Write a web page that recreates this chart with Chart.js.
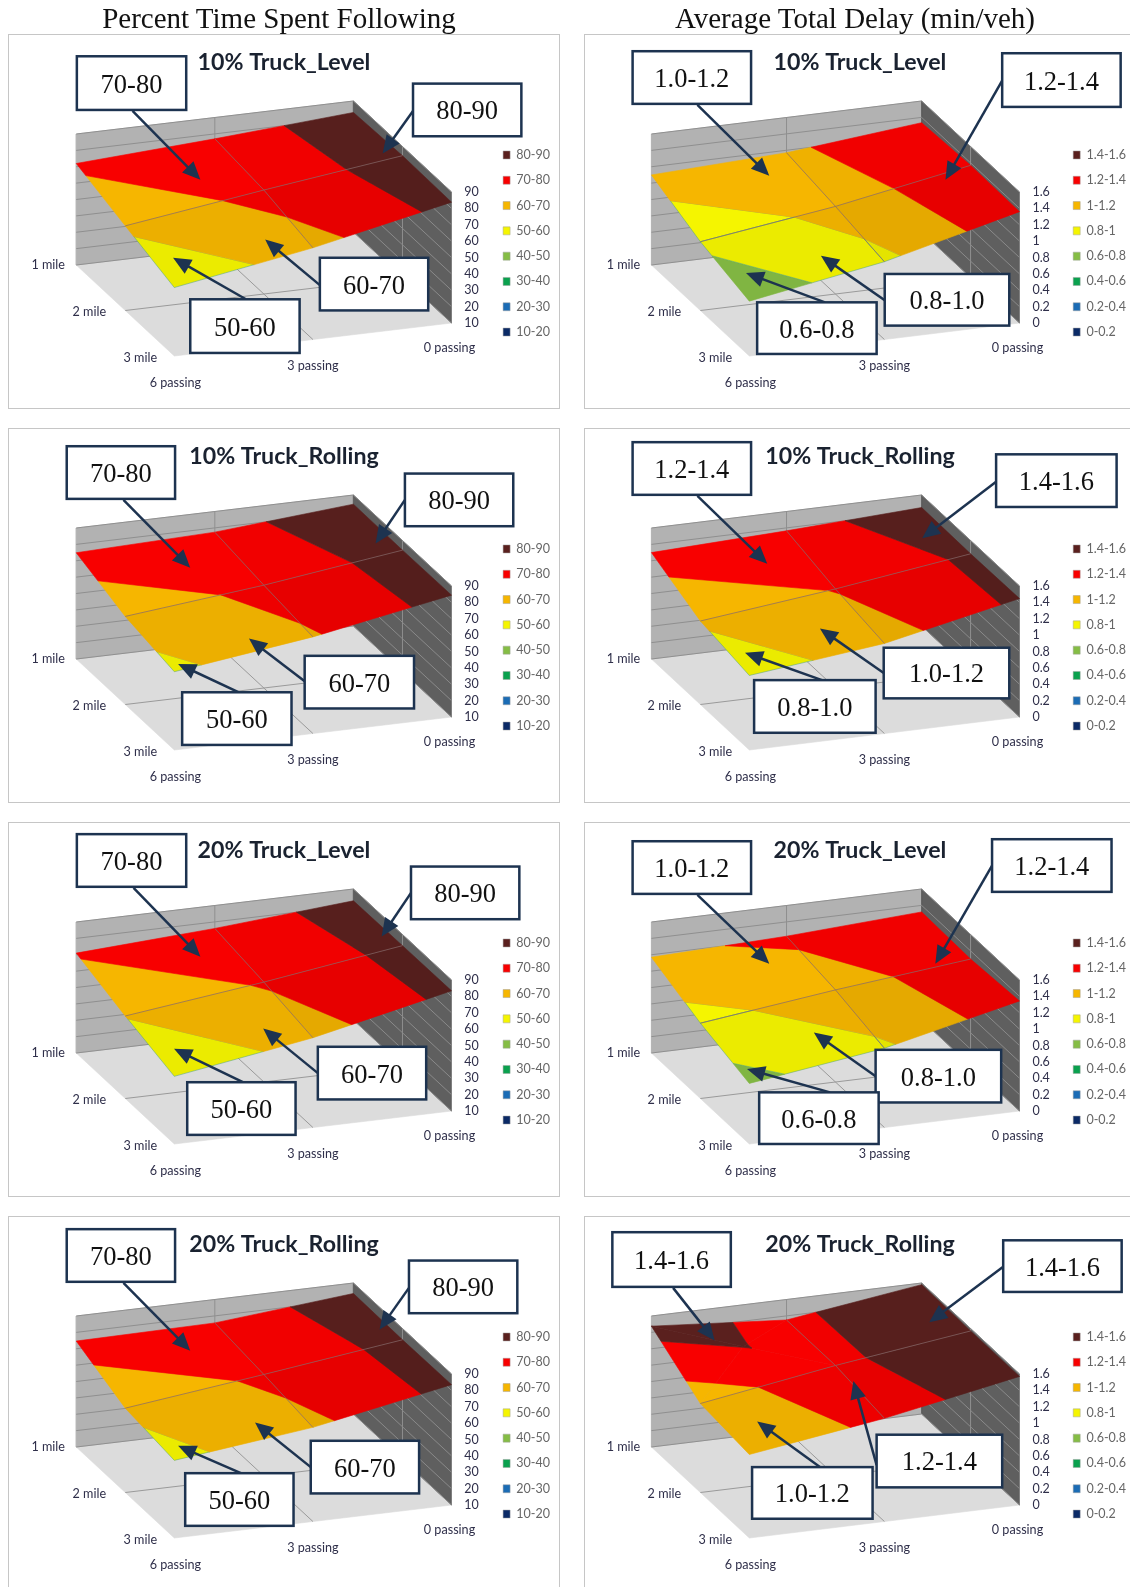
<!DOCTYPE html>
<html>
<head>
<meta charset="utf-8">
<title>Percent Time Spent Following / Average Total Delay</title>
<script src="https://cdn.jsdelivr.net/npm/chart.js@4"></script>
<style>
  html, body { margin: 0; background: #fff; }
  body { position: relative; width: 1130px; height: 1587px; overflow: hidden; }
  .head { position: absolute; top: 18px; transform: translate(-50%, -50%); white-space: nowrap;
          font: 29px "Liberation Serif", serif; color: #111; filter: blur(.35px); }
  .panel { position: absolute; background: #fff; outline: 1.5px solid #c6c6c6; outline-offset: -1px; }
  .panel canvas { position: absolute; left: 0; top: 0; filter: blur(.55px); }
</style>
</head>
<body>
<div class="head" style="left:279px">Percent Time Spent Following</div>
<div class="head" style="left:855px">Average Total Delay (min/veh)</div>
<script>
// data
const rowNames = ['1 mile', '2 mile', '3 mile'];
const colNames = ['6 passing', '3 passing', '0 passing'];
const ptsfTicks = [10, 20, 30, 40, 50, 60, 70, 80, 90];
const delayTicks = [0, 0.2, 0.4, 0.6, 0.8, 1, 1.2, 1.4, 1.6];
const ptsfBands = ['10-20', '20-30', '30-40', '40-50', '50-60', '60-70', '70-80', '80-90'];
const delayBands = ['0-0.2', '0.2-0.4', '0.4-0.6', '0.6-0.8', '0.8-1', '1-1.2', '1.2-1.4', '1.4-1.6'];

// rows: 1, 2, 3 mile. columns: 6, 3, 0 passing
const ptsf10Level = [[72, 77, 83], [61.7, 73.5, 84.4], [51.8, 66, 83.8]];
const ptsf10Rolling = [[74.9, 77.4, 84.4], [63.8, 72.8, 84.1], [57.8, 69, 84.4]];
const ptsf20Level = [[71, 76, 82.8], [60.4, 71, 83.2], [51.3, 64.8, 83.4]];
const ptsf20Rolling = [[74.7, 75.7, 83.6], [61.5, 72, 83.1], [57.4, 67.5, 83.5]];
const delay10Level = [[1.1, 1.17, 1.335], [0.84, 1.07, 1.37], [0.67, 0.95, 1.36]];
const delay10Rolling = [[1.3, 1.364, 1.447], [1.02, 1.21, 1.4375], [0.91, 1.1, 1.447]];
const delay20Level = [[1.17, 1.225, 1.32], [0.92, 1.125, 1.3], [0.74, 0.968, 1.344]];
const delay20Rolling = [[1.476, 1.35, 1.58], [1.087, 1.35, 1.57], [1.02, 1.26, 1.57]];
const delay20RollingCentre = [[1.405, null], [null, null]]; // the notch in the top left cell

const bandColors = ['#0b2a66', '#1b6cb5', '#0aa14e', '#85bd45', '#f5f500', '#f6b600', '#f80000', '#5a201e'];
const cellShade = [[1, 0.97], [0.96, 0.93]];

// callouts in picture coordinates: text, box x0 y0 x1 y1, arrow x0 y0 x1 y1
const callouts = {
  p10L: [['70-80', 76, 56, 184, 109, 131, 110, 198, 178], ['80-90', 408, 83, 515, 135, 408, 110, 378, 152], ['60-70', 316, 255, 423, 307, 316, 282, 262, 237], ['50-60', 188, 296, 296, 349, 243, 296, 171, 255]],
  d10L: [['1.0-1.2', 625, 51, 742, 103, 689, 104, 760, 174], ['1.2-1.4', 990, 53, 1107, 106, 990, 80, 934, 178], ['0.8-1.0', 874, 271, 997, 322, 874, 297, 811, 253], ['0.6-0.8', 748, 299, 866, 350, 815, 299, 737, 270]],
  p10R: [['70-80', 66, 441, 173, 493, 122, 494, 188, 561], ['80-90', 400, 468, 507, 520, 400, 494, 371, 537], ['60-70', 301, 648, 409, 700, 301, 673, 246, 631], ['50-60', 180, 684, 288, 736, 236, 684, 176, 656]],
  d10R: [['1.2-1.4', 625, 437, 742, 489, 689, 490, 758, 557], ['1.4-1.6', 984, 449, 1103, 501, 984, 476, 911, 532], ['1.0-1.2', 873, 640, 997, 690, 873, 665, 810, 621], ['0.8-1.0', 745, 672, 865, 724, 812, 672, 736, 645]],
  p20L: [['70-80', 76, 824, 184, 876, 132, 877, 198, 945], ['80-90', 406, 856, 513, 908, 406, 882, 377, 925], ['60-70', 314, 1034, 421, 1086, 314, 1060, 260, 1016], ['50-60', 185, 1069, 292, 1121, 240, 1069, 172, 1036]],
  d20L: [['1.0-1.2', 625, 831, 742, 883, 689, 884, 760, 952], ['1.2-1.4', 980, 829, 1098, 881, 980, 855, 924, 952], ['0.8-1.0', 865, 1037, 989, 1089, 865, 1063, 804, 1020], ['0.6-0.8', 750, 1079, 868, 1130, 820, 1079, 738, 1056]],
  p20R: [['70-80', 66, 1214, 173, 1266, 122, 1267, 188, 1334], ['80-90', 404, 1245, 511, 1297, 404, 1272, 375, 1313], ['60-70', 307, 1423, 414, 1475, 307, 1449, 252, 1405], ['50-60', 183, 1455, 290, 1507, 238, 1455, 176, 1428]],
  d20R: [['1.4-1.6', 605, 1217, 722, 1271, 665, 1272, 706, 1324], ['1.4-1.6', 991, 1225, 1108, 1276, 991, 1251, 918, 1306], ['1.0-1.2', 743, 1449, 862, 1500, 810, 1449, 748, 1404], ['1.2-1.4', 866, 1417, 990, 1469, 866, 1447, 843, 1364]]
};

const K = 1130 / 1116;
const panelW = 552, panelH = 374.6, wallH = 131;
const columnsGeom = [
  { left: 8 * K, axisW: 31, legendW: 71, L: [67.8, 231], F: [166, 322], R: [443.5, 289] },
  { left: 577 * K, axisW: 33, legendW: 78, L: [67, 231], F: [165, 322], R: [435.5, 289] }
];
const rowTops = [34, 423, 812, 1201].map(v => v * K);

function shade(hex, f) {
  const n = parseInt(hex.slice(1), 16);
  const c = [n >> 16, (n >> 8) & 255, n & 255].map(v => Math.round(v * f));
  return 'rgb(' + c.join(',') + ')';
}

// keep the part of a polygon on one side of a level, z runs linearly along the edges
function clipLevel(poly, level, above) {
  const out = [];
  for (let i = 0; i < poly.length; i++) {
    const a = poly[i], b = poly[(i + 1) % poly.length];
    const inA = above ? a.z >= level : a.z <= level;
    const inB = above ? b.z >= level : b.z <= level;
    if (inA) out.push(a);
    if (inA !== inB) {
      const t = (level - a.z) / (b.z - a.z);
      out.push({ x: a.x + (b.x - a.x) * t, y: a.y + (b.y - a.y) * t, z: level });
    }
  }
  return out;
}

function shapeSet(points, color, border) {
  const pts = points.map(p => ({ x: p.x, y: p.y }));
  pts.push(pts[0]);
  return { data: pts, showLine: true, fill: 'shape', backgroundColor: color, borderColor: border || color,
    borderWidth: 0.6, pointRadius: 0, clip: false };
}

function lineSet(points, color, width) {
  return { data: points.map(p => ({ x: p.x, y: p.y })), showLine: true, fill: false, borderColor: color,
    borderWidth: width, pointRadius: 0, clip: false };
}

function drawPanel(title, grid, ticks, bands, col, row, notes, centres) {
  const geom = columnsGeom[col];
  const top = rowTops[row];
  const box = document.createElement('div');
  box.className = 'panel';
  box.style.cssText = 'left:' + geom.left + 'px;top:' + top + 'px;width:' + panelW + 'px;height:' + panelH + 'px';
  const canvas = document.createElement('canvas');
  canvas.width = panelW;
  canvas.height = Math.ceil(panelH);
  box.appendChild(canvas);
  document.body.appendChild(box);

  const zMin = ticks[0], zMax = ticks[ticks.length - 1];
  const pxPerZ = wallH / (zMax - zMin);
  const floorXY = (r, c) => [
    geom.L[0] + (geom.F[0] - geom.L[0]) * r / 2 + (geom.R[0] - geom.F[0]) * c / 2,
    geom.L[1] + (geom.F[1] - geom.L[1]) * r / 2 + (geom.R[1] - geom.F[1]) * c / 2
  ];
  // x in panel pixels, y in axis units so that the right hand axis reads true on the corner
  const project = (r, c, z) => {
    const p = floorXY(r, c);
    return { x: p[0], y: z + (geom.R[1] - p[1]) / pxPerZ, z: z };
  };

  const sets = [];
  const floor = [project(0, 0, zMin), project(2, 0, zMin), project(2, 2, zMin), project(0, 2, zMin)];
  sets.push(shapeSet(floor, '#dcdcdc'));
  sets.push(lineSet([project(1, 0, zMin), project(1, 2, zMin)], '#9a9a9a', 1));
  sets.push(lineSet([project(0, 1, zMin), project(2, 1, zMin)], '#9a9a9a', 1));
  sets.push(shapeSet([project(0, 0, zMin), project(0, 2, zMin), project(0, 2, zMax), project(0, 0, zMax)], '#b2b2b2'));
  sets.push(shapeSet([project(0, 2, zMin), project(2, 2, zMin), project(2, 2, zMax), project(0, 2, zMax)], '#5f5f5f'));
  sets.push(lineSet([project(0, 1, zMin), project(0, 1, zMax)], '#8f8f8f', 1));
  sets.push(lineSet([project(1, 2, zMin), project(1, 2, zMax)], '#8f8f8f', 1));
  ticks.forEach(t => {
    sets.push(lineSet([project(0, 0, t), project(0, 2, t)], '#8f8f8f', 1));
    sets.push(lineSet([project(0, 2, t), project(2, 2, t)], '#8a8a8a', 1));
  });

  // surface, cell by cell and band by band
  for (let r = 0; r < 2; r++) {
    for (let c = 0; c < 2; c++) {
      const corners = [project(r, c, grid[r][c]), project(r, c + 1, grid[r][c + 1]),
        project(r + 1, c + 1, grid[r + 1][c + 1]), project(r + 1, c, grid[r + 1][c])];
      let polys = [corners];
      if (centres && centres[r][c] !== null) {
        const mid = project(r + 0.5, c + 0.5, centres[r][c]);
        polys = corners.map((p, i) => [p, corners[(i + 1) % 4], mid]);
      }
      polys.forEach(poly => {
        bands.forEach((name, b) => {
          let part = clipLevel(poly, ticks[b], true);
          if (part.length) part = clipLevel(part, ticks[b + 1], false);
          if (part.length > 2) {
            // the yellow band has a thin teal edge in the original
            sets.push(shapeSet(part, shade(bandColors[b], cellShade[r][c]), b === 4 ? 'rgba(80,165,120,.85)' : null));
          }
        });
      });
    }
  }
  const meshColor = 'rgba(135,105,105,.7)';
  sets.push(lineSet([0, 1, 2].map(c => project(1, c, grid[1][c])), meshColor, 1));
  sets.push(lineSet([0, 1, 2].map(r => project(r, 1, grid[r][1])), meshColor, 1));
  sets.reverse(); // Chart.js paints the first dataset last

  const textPlugin = {
    id: 'panelText',
    afterDraw(chart) {
      const ctx = chart.ctx;
      const sx = chart.scales.x, sy = chart.scales.y;
      ctx.save();
      ctx.font = '12.6px Lato, sans-serif';
      ctx.fillStyle = '#2f2f4a';
      ctx.textAlign = 'center';
      ctx.textBaseline = 'middle';
      [[-28, 0], [-36, 1], [-34, 2]].forEach((o, r) => {
        const p = project(r, 0, zMin);
        ctx.fillText(rowNames[r], sx.getPixelForValue(p.x) + o[0], sy.getPixelForValue(p.y) + o[1]);
      });
      [[1, 27], [0, 26], [-2, 25]].forEach((o, c) => {
        const p = project(2, c, zMin);
        ctx.fillText(colNames[c], sx.getPixelForValue(p.x) + o[0], sy.getPixelForValue(p.y) + o[1]);
      });
      notes.forEach(n => {
        const X = v => v * K - geom.left, Y = v => v * K - top;
        const ax = X(n[5]), ay = Y(n[6]), bx = X(n[7]), by = Y(n[8]);
        const ang = Math.atan2(by - ay, bx - ax);
        const cs = Math.cos(ang), sn = Math.sin(ang);
        ctx.strokeStyle = ctx.fillStyle = '#1d3350';
        ctx.lineWidth = 2.5;
        ctx.beginPath();
        ctx.moveTo(ax, ay);
        ctx.lineTo(bx - 12 * cs, by - 12 * sn);
        ctx.stroke();
        ctx.beginPath();
        ctx.moveTo(bx, by);
        ctx.lineTo(bx - 18 * cs + 8 * sn, by - 18 * sn - 8 * cs);
        ctx.lineTo(bx - 18 * cs - 8 * sn, by - 18 * sn + 8 * cs);
        ctx.closePath();
        ctx.fill();
      });
      notes.forEach(n => {
        const X = v => v * K - geom.left, Y = v => v * K - top;
        ctx.fillStyle = '#fff';
        ctx.strokeStyle = '#1d3350';
        ctx.lineWidth = 2.5;
        ctx.fillRect(X(n[1]), Y(n[2]), X(n[3]) - X(n[1]), Y(n[4]) - Y(n[2]));
        ctx.strokeRect(X(n[1]), Y(n[2]), X(n[3]) - X(n[1]), Y(n[4]) - Y(n[2]));
        ctx.fillStyle = '#111';
        ctx.font = '26.5px "Liberation Serif", serif';
        ctx.fillText(n[0], (X(n[1]) + X(n[3])) / 2, (Y(n[2]) + Y(n[4])) / 2 + 2.5);
      });
      ctx.restore();
    }
  };

  const chart = new Chart(canvas, {
    type: 'scatter',
    data: { datasets: sets },
    plugins: [textPlugin],
    options: {
      responsive: false,
      animation: false,
      events: [],
      layout: { padding: 0 },
      plugins: {
        tooltip: { enabled: false },
        title: { display: true, text: title, color: '#1a2230', align: 'center',
          font: { family: 'Lato, sans-serif', size: 23.2, weight: 'bold' }, padding: { top: 14.5, bottom: 0 } },
        legend: {
          position: 'right', align: 'start', maxWidth: geom.legendW,
          title: { display: true, text: ' ', font: { size: 1 }, padding: { top: 100.7, bottom: 0 } },
          labels: {
            boxWidth: 7, boxHeight: 8, padding: 12.8, color: '#2f2f4a',
            font: { family: 'Lato, sans-serif', size: 12.5 },
            generateLabels: () => bands.map((name, b) => ({ text: name, fillStyle: bandColors[b],
              strokeStyle: '#a0a0a0', lineWidth: 0.5 })).reverse()
          }
        }
      },
      scales: {
        x: { type: 'linear', display: false, min: 0, max: panelW },
        y: {
          type: 'linear', position: 'right', min: zMin, max: zMax,
          grid: { display: false, drawTicks: false }, border: { display: false },
          afterFit: s => { s.width = geom.axisW; },
          afterBuildTicks: s => { s.ticks = ticks.map(v => ({ value: v })); },
          ticks: { padding: 5, autoSkip: false, color: '#2f2f4a', callback: v => String(v),
            font: { family: 'Lato, sans-serif', size: 12.5 } }
        }
      }
    }
  });

  // second pass: chart area is known now, tie both scales to panel pixels
  const area = chart.chartArea;
  chart.options.scales.x.max = area.right - area.left;
  chart.options.scales.y.min = zMin - (area.bottom - geom.R[1]) / pxPerZ;
  chart.options.scales.y.max = zMin + (geom.R[1] - area.top) / pxPerZ;
  chart.update('none');
}

drawPanel('10% Truck_Level', ptsf10Level, ptsfTicks, ptsfBands, 0, 0, callouts.p10L);
drawPanel('10% Truck_Level', delay10Level, delayTicks, delayBands, 1, 0, callouts.d10L);
drawPanel('10% Truck_Rolling', ptsf10Rolling, ptsfTicks, ptsfBands, 0, 1, callouts.p10R);
drawPanel('10% Truck_Rolling', delay10Rolling, delayTicks, delayBands, 1, 1, callouts.d10R);
drawPanel('20% Truck_Level', ptsf20Level, ptsfTicks, ptsfBands, 0, 2, callouts.p20L);
drawPanel('20% Truck_Level', delay20Level, delayTicks, delayBands, 1, 2, callouts.d20L);
drawPanel('20% Truck_Rolling', ptsf20Rolling, ptsfTicks, ptsfBands, 0, 3, callouts.p20R);
drawPanel('20% Truck_Rolling', delay20Rolling, delayTicks, delayBands, 1, 3, callouts.d20R, delay20RollingCentre);
</script>
</body>
</html>
